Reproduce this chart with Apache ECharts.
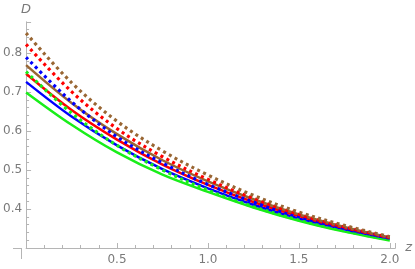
<!DOCTYPE html>
<html>
<head>
<meta charset="utf-8">
<script src="https://cdn.jsdelivr.net/npm/echarts@6/dist/echarts.min.js"></script>
<style>
  html, body { margin: 0; padding: 0; background: #fff; }
  #chart { width: 415px; height: 269px; }
</style>
</head>
<body>
<div id="chart"></div>
<script>
// sample points along z
var zValues = [0, 0.25, 0.5, 0.75, 1.0, 1.25, 1.5, 1.75, 2.0];

// solid curves
var greenSolid = [0.699, 0.616, 0.545, 0.488, 0.444, 0.404, 0.370, 0.342, 0.319];
var blueSolid  = [0.726, 0.637, 0.563, 0.502, 0.453, 0.411, 0.376, 0.348, 0.324];
var redSolid   = [0.747, 0.654, 0.578, 0.514, 0.462, 0.418, 0.382, 0.351, 0.326];
var brownSolid = [0.769, 0.672, 0.592, 0.525, 0.471, 0.425, 0.386, 0.354, 0.327];

// dotted curves
var greenDotted = [0.752, 0.646, 0.563, 0.500, 0.448, 0.406, 0.372, 0.344, 0.321];
var blueDotted  = [0.789, 0.675, 0.585, 0.518, 0.463, 0.418, 0.380, 0.350, 0.325];
var redDotted   = [0.822, 0.701, 0.606, 0.534, 0.476, 0.427, 0.386, 0.354, 0.327];
var brownDotted = [0.851, 0.724, 0.625, 0.549, 0.487, 0.435, 0.392, 0.358, 0.329];

var axisGray = '#b5b5b5';
var labelGray = '#7a7a7a';

function pairs(ys) {
  return zValues.map(function (z, i) { return [z, ys[i]]; });
}

function curve(name, ys, color, dotted) {
  return {
    name: name,
    type: 'line',
    data: pairs(ys),
    smooth: 0.35,
    showSymbol: false,
    silent: true,
    lineStyle: {
      color: color,
      width: dotted ? 3.2 : 2.5,
      type: dotted ? [3, 3.5] : 'solid'
    }
  };
}

var chart = echarts.init(document.getElementById('chart'));
var option = {
  animation: false,
  grid: { left: 21, right: 18.5, top: 21.8, bottom: 21 },
  // small overhang of the axes past the origin
  graphic: [
    { type: 'line', shape: { x1: 21.5, y1: 248, x2: 21.5, y2: 259 }, style: { stroke: axisGray, lineWidth: 1 }, silent: true },
    { type: 'line', shape: { x1: 13, y1: 248.5, x2: 21, y2: 248.5 }, style: { stroke: axisGray, lineWidth: 1 }, silent: true }
  ],
  xAxis: {
    type: 'value',
    min: 0,
    max: 2.03,
    interval: 0.5,
    name: 'z',
    nameLocation: 'end',
    nameGap: 8,
    nameTextStyle: { color: labelGray, fontStyle: 'italic', fontSize: 13, fontFamily: 'DejaVu Sans', verticalAlign: 'middle' },
    axisLine: { show: true, lineStyle: { color: axisGray, width: 1 } },
    axisTick: { show: true, inside: true, length: 5, lineStyle: { color: axisGray } },
    minorTick: { show: true, splitNumber: 5, length: 3, lineStyle: { color: axisGray } },
    axisLabel: {
      color: labelGray, fontSize: 12, fontFamily: 'DejaVu Sans', margin: 6,
      formatter: function (v) { return v === 0 ? '' : v.toFixed(1); }
    },
    splitLine: { show: false }
  },
  yAxis: {
    type: 'value',
    min: 0.3,
    max: 0.88,
    interval: 0.1,
    name: 'D',
    nameLocation: 'end',
    nameGap: 6,
    nameTextStyle: { color: labelGray, fontStyle: 'italic', fontSize: 13, fontFamily: 'DejaVu Sans', align: 'center' },
    axisLine: { show: true, lineStyle: { color: axisGray, width: 1 } },
    axisTick: { show: true, inside: true, length: 5, lineStyle: { color: axisGray } },
    minorTick: { show: true, splitNumber: 5, length: 3, lineStyle: { color: axisGray } },
    axisLabel: {
      color: labelGray, fontSize: 12, fontFamily: 'DejaVu Sans', margin: 4,
      showMinLabel: false, showMaxLabel: false,
      formatter: function (v) { return v.toFixed(1); }
    },
    splitLine: { show: false }
  },
  series: [
    curve('green solid', greenSolid, '#19ee19', false),
    curve('blue solid', blueSolid, '#0000ff', false),
    curve('red solid', redSolid, '#ff0000', false),
    curve('brown solid', brownSolid, '#996633', false),
    curve('green dotted', greenDotted, '#19ee19', true),
    curve('blue dotted', blueDotted, '#0000ff', true),
    curve('red dotted', redDotted, '#ff0000', true),
    curve('brown dotted', brownDotted, '#996633', true)
  ]
};
chart.setOption(option);
</script>
</body>
</html>
